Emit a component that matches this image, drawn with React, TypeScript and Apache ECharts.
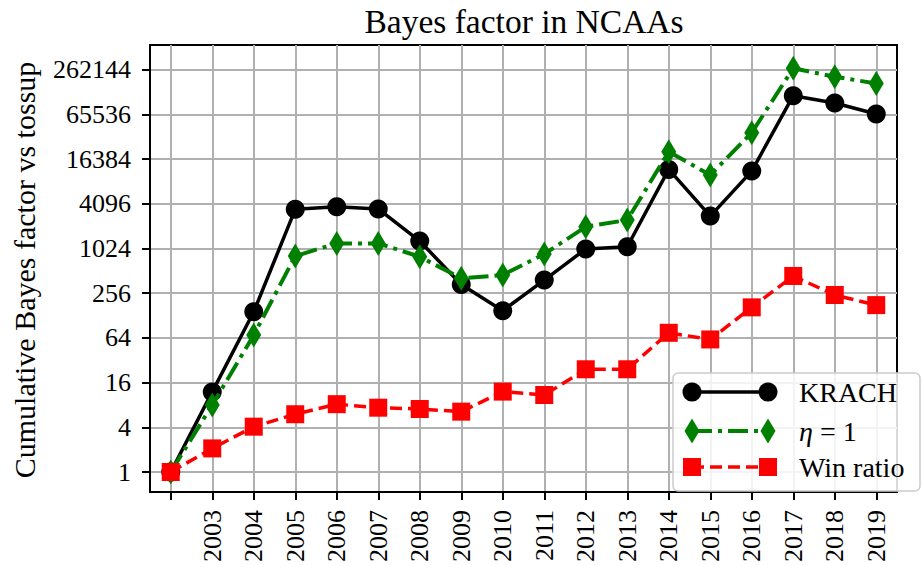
import React, { useEffect, useRef } from "react";
import * as echarts from "echarts";

const years = [2002, 2003, 2004, 2005, 2006, 2007, 2008, 2009, 2010, 2011, 2012, 2013, 2014, 2015, 2016, 2017, 2018, 2019];
const xTickLabels = ["", "2003", "2004", "2005", "2006", "2007", "2008", "2009", "2010", "2011", "2012", "2013", "2014", "2015", "2016", "2017", "2018", "2019"];
const yTickValues = [1, 4, 16, 64, 256, 1024, 4096, 16384, 65536, 262144];

const krach = [1, 12, 144, 3450, 3750, 3490, 1290, 335, 149, 385, 1010, 1080, 11900, 2800, 11300, 117000, 93300, 66400];
const eta1 = [1, 8, 70, 810, 1200, 1200, 793, 406, 450, 863, 2010, 2480, 20600, 10000, 37200, 274000, 211000, 171000];
const winRatio = [1, 2.08, 4.08, 6.0, 8.2, 7.35, 7.06, 6.5, 12.1, 10.9, 24.2, 24.2, 75, 61, 165, 437, 242, 177];

const seriesNames = ["KRACH", "η = 1", "Win ratio"];

const FONT = "'Liberation Serif', 'Times New Roman', serif";

export default function App() {
  const ref = useRef<HTMLDivElement>(null);
  useEffect(() => {
    if (!ref.current) return;
    const chart = echarts.init(ref.current, undefined, { renderer: "svg" });

    const toPairs = (arr: number[]) => arr.map((v, i) => [years[i], v]);

    const styles = [
      { color: "#000000", symbol: "circle", size: 19, lineType: "solid" as any, width: 3.5 },
      { color: "#008000", symbol: "diamond", size: [15, 25], lineType: [20, 6, 4, 6], width: 4 },
      { color: "#ff0000", symbol: "rect", size: 18, lineType: [12, 6], width: 3.5 },
    ];
    const datas = [krach, eta1, winRatio];

    const series = datas.map((d, i) => ({
      name: seriesNames[i],
      type: "line",
      data: toPairs(d),
      symbol: styles[i].symbol,
      symbolSize: styles[i].size,
      showAllSymbol: true,
      lineStyle: { color: styles[i].color, width: styles[i].width, type: styles[i].lineType },
      itemStyle: { color: styles[i].color, borderWidth: 0 },
      z: 3 + i,
    }));

    // legend built with graphic
    const lx0 = 673, ly0 = 373, lw = 247, lh = 118;
    const rowsY = [392, 431, 467];
    const lineX1 = 692, lineX2 = 768, textX = 799;
    const legendEls: any[] = [
      {
        type: "rect",
        shape: { x: lx0, y: ly0, width: lw, height: lh, r: 5 },
        style: { fill: "rgba(255,255,255,0.85)", stroke: "#cccccc", lineWidth: 1.5 },
        z: 100,
      },
    ];
    styles.forEach((s, i) => {
      const y = rowsY[i];
      legendEls.push({
        type: "line",
        shape: { x1: lineX1, y1: y, x2: lineX2, y2: y },
        style: { stroke: s.color, lineWidth: s.width, lineDash: s.lineType === "solid" ? null : s.lineType },
        z: 101,
      });
      [lineX1, lineX2].forEach((cx) => {
        if (s.symbol === "circle") {
          legendEls.push({ type: "circle", shape: { cx, cy: y, r: 9.5 }, style: { fill: s.color }, z: 102 });
        } else if (s.symbol === "diamond") {
          legendEls.push({
            type: "polygon",
            shape: { points: [[cx, y - 12.5], [cx + 7.5, y], [cx, y + 12.5], [cx - 7.5, y]] },
            style: { fill: s.color },
            z: 102,
          });
        } else {
          legendEls.push({ type: "rect", shape: { x: cx - 9, y: y - 9, width: 18, height: 18 }, style: { fill: s.color }, z: 102 });
        }
      });
      legendEls.push({
        type: "text",
        x: textX,
        y,
        style: {
          text: i === 1 ? "{i|η} = 1" : seriesNames[i],
          font: `28px ${FONT}`,
          fill: "#000",
          verticalAlign: "middle",
          align: "left",
          rich: { i: { fontStyle: "italic", fontSize: 28, fontFamily: FONT } },
        },
        z: 102,
      });
    });

    const option: any = {
      animation: false,
      backgroundColor: "#ffffff",
      grid: {
        left: 150,
        top: 45,
        right: 25,
        bottom: 73,
        show: true,
        borderColor: "#000",
        borderWidth: 2,
        containLabel: false,
        outerBoundsMode: "none",
      },
      xAxis: {
        type: "value",
        min: 2001.5,
        max: 2019.5,
        axisLine: { show: true, lineStyle: { color: "#000", width: 2 } },
        axisTick: { show: true, length: 8, customValues: years, lineStyle: { color: "#000", width: 2 } },
        axisLabel: {
          rotate: 90,
          margin: 18,
          fontSize: 26,
          fontFamily: FONT,
          color: "#000",
          customValues: years,
          formatter: (v: number) => {
            const idx = years.indexOf(Math.round(v));
            return idx < 0 ? "" : xTickLabels[idx];
          },
        },
        splitLine: { show: true, lineStyle: { color: "#b0b0b0", width: 2 } },
      },
      yAxis: {
        type: "log",
        logBase: 2,
        min: 0.538,
        max: 564000,
        axisLine: { show: true, lineStyle: { color: "#000", width: 2 } },
        axisTick: { show: true, length: 8, customValues: yTickValues, lineStyle: { color: "#000", width: 2 } },
        axisLabel: {
          margin: 19,
          fontSize: 26,
          fontFamily: FONT,
          color: "#000",
          customValues: yTickValues,
          formatter: (v: number) => {
            const hit = yTickValues.find((t) => Math.abs(t - v) / t < 1e-6);
            return hit !== undefined ? String(hit) : "";
          },
        },
        splitLine: { show: true, lineStyle: { color: "#b0b0b0", width: 2 } },
      },
      series,
      graphic: [
        {
          type: "text",
          x: 524,
          y: 21,
          style: {
            text: "Bayes factor in NCAAs",
            font: `33.5px ${FONT}`,
            fill: "#000",
            align: "center",
            verticalAlign: "middle",
          },
        },
        {
          type: "text",
          x: 24,
          y: 270,
          rotation: Math.PI / 2,
          style: {
            text: "Cumulative Bayes factor vs tossup",
            font: `30px ${FONT}`,
            fill: "#000",
            align: "center",
            verticalAlign: "middle",
          },
        },
        ...legendEls,
      ],
    };
    chart.setOption(option);
    return () => chart.dispose();
  }, []);
  return <div ref={ref} style={{ position: "fixed", left: 0, top: 0, width: 922, height: 565 }} />;
}
